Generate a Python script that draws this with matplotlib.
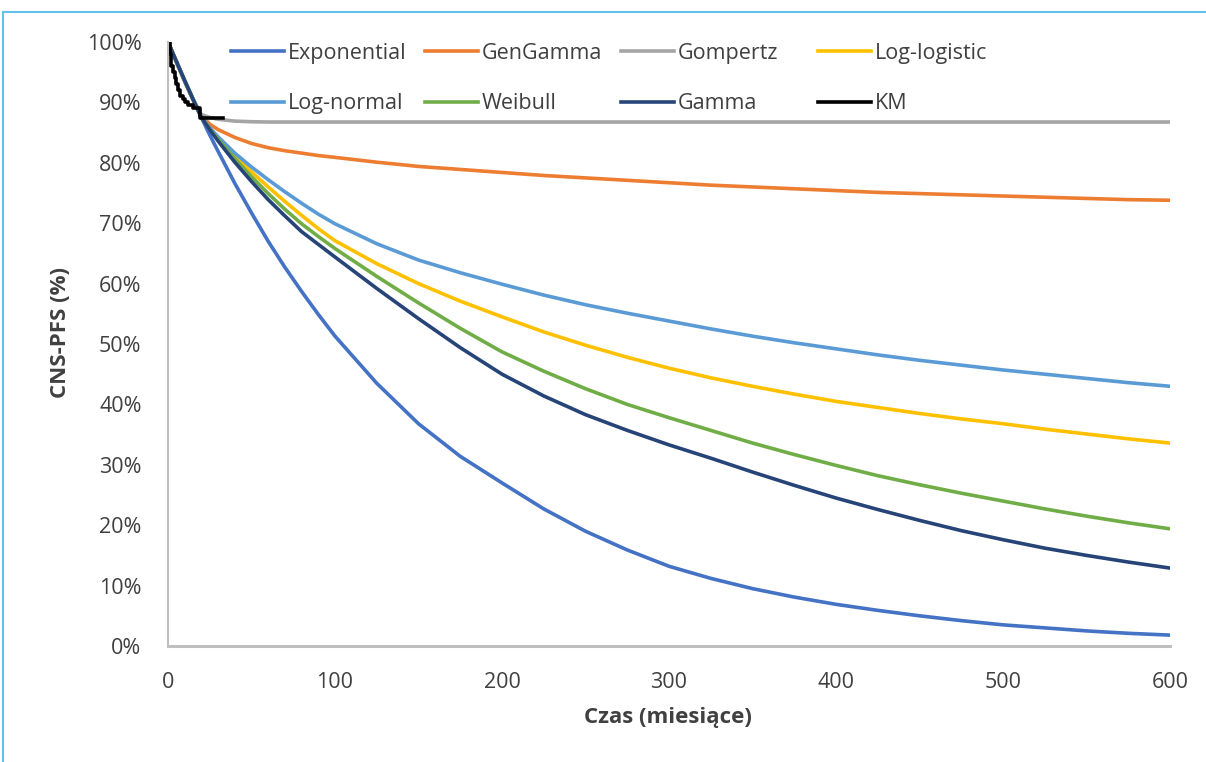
"""
plot.py

CNS-PFS extrapolation: parametric survival models vs Kaplan-Meier.
Saves the figure as out.png
"""

import matplotlib.pyplot as plt
from matplotlib.lines import Line2D
from matplotlib.ticker import PercentFormatter

# -----------------------------
# DATA
# -----------------------------
months = [0, 5, 10, 15, 20, 25, 30, 40, 50, 60, 70, 80, 90, 100, 125, 150, 175,
          200, 225, 250, 275, 300, 325, 350, 375, 400, 425, 450, 475, 500, 525,
          550, 575, 600]

exponential = [100, 96.7, 93.5, 90.4, 87.5, 84.6, 81.9, 76.6, 71.7, 67.0, 62.7,
               58.7, 54.9, 51.3, 43.5, 36.8, 31.4, 27.0, 22.7, 19.0, 15.9, 13.2,
               11.2, 9.5, 8.1, 6.9, 5.9, 5.0, 4.2, 3.5, 3.0, 2.5, 2.1, 1.8]
gengamma = [100, 96.7, 93.5, 90.5, 87.8, 86.4, 85.5, 84.2, 83.2, 82.5, 82.0,
            81.6, 81.2, 80.9, 80.1, 79.4, 78.9, 78.4, 77.9, 77.5, 77.1, 76.7,
            76.3, 76.0, 75.7, 75.4, 75.1, 74.9, 74.7, 74.5, 74.3, 74.1, 73.9, 73.8]
gompertz = [100, 96.7, 93.5, 90.5, 88.0, 87.5, 87.2, 86.9, 86.8, 86.75, 86.75,
            86.75, 86.75, 86.75, 86.75, 86.75, 86.75, 86.75, 86.75, 86.75, 86.75,
            86.75, 86.75, 86.75, 86.75, 86.75, 86.75, 86.75, 86.75, 86.75, 86.75,
            86.75, 86.75, 86.75]
log_logistic = [100, 96.8, 93.6, 90.5, 87.5, 85.7, 84.1, 81.2, 78.5, 76.0, 73.6,
                71.3, 69.1, 67.1, 63.3, 60.0, 57.1, 54.5, 52.0, 49.8, 47.8, 46.0,
                44.4, 43.0, 41.7, 40.5, 39.5, 38.5, 37.6, 36.8, 35.9, 35.1, 34.3, 33.6]
log_normal = [100, 96.8, 93.6, 90.6, 87.6, 85.8, 84.3, 81.6, 79.3, 77.2, 75.2,
              73.3, 71.5, 69.9, 66.6, 63.9, 61.8, 59.9, 58.1, 56.5, 55.1, 53.8,
              52.5, 51.3, 50.2, 49.2, 48.2, 47.3, 46.5, 45.7, 45.0, 44.3, 43.6, 43.0]
weibull = [100, 96.8, 93.6, 90.5, 87.5, 85.6, 83.9, 80.7, 77.7, 74.9, 72.3,
           69.9, 67.8, 65.8, 61.2, 56.8, 52.6, 48.7, 45.5, 42.6, 40.0, 37.8,
           35.7, 33.6, 31.7, 29.9, 28.2, 26.7, 25.3, 24.0, 22.7, 21.5, 20.4, 19.4]
gamma = [100, 96.8, 93.6, 90.5, 87.5, 85.5, 83.6, 80.1, 76.9, 73.9, 71.2,
         68.6, 66.5, 64.4, 59.2, 54.2, 49.4, 45.0, 41.4, 38.3, 35.7, 33.3,
         31.1, 28.8, 26.6, 24.5, 22.6, 20.8, 19.1, 17.6, 16.2, 15.0, 13.9, 12.9]

km_months = [0, 1, 2, 3, 4, 5, 6, 7, 9, 10, 12, 15, 19, 33]
km_surv = [100, 98, 96, 95, 94, 93, 92, 91, 90.5, 90, 89.5, 89, 87.4, 87.4]

# -----------------------------
# STYLE
# -----------------------------
plt.rcParams["font.family"] = ["Open Sans", "DejaVu Sans"]
TEXT = "#404040"
AXIS = "#BFBFBF"
COLORS = {
    "Exponential": "#4472C4",
    "GenGamma": "#ED7D31",
    "Gompertz": "#A5A5A5",
    "Log-logistic": "#FFC000",
    "Log-normal": "#5B9BD5",
    "Weibull": "#70AD47",
    "Gamma": "#264478",
    "KM": "#000000",
}
series = {
    "Exponential": exponential,
    "GenGamma": gengamma,
    "Gompertz": gompertz,
    "Log-logistic": log_logistic,
    "Log-normal": log_normal,
    "Weibull": weibull,
    "Gamma": gamma,
}

# -----------------------------
# FIGURE
# -----------------------------
fig = plt.figure(figsize=(12.06, 7.62), dpi=100)
ax = fig.add_axes([168 / 1206, 1 - 646 / 762, (1170 - 168) / 1206, (646 - 42) / 762])

handles = {}
for name, vals in series.items():
    (h,) = ax.plot(months, vals, color=COLORS[name], lw=2.6, solid_joinstyle="round")
    handles[name] = h

(h,) = ax.plot(km_months, km_surv, color=COLORS["KM"], lw=2.6, drawstyle="steps-post")
handles["KM"] = h

ax.set_xlim(0, 600)
ax.set_ylim(0, 100)
ax.set_xticks(range(0, 601, 100))
ax.set_yticks(range(0, 101, 10))
ax.yaxis.set_major_formatter(PercentFormatter(decimals=0))
ax.tick_params(length=0, labelsize=15.5, colors=TEXT)
ax.tick_params(axis="y", pad=19)
ax.tick_params(axis="x", pad=19)

for side in ["top", "right"]:
    ax.spines[side].set_visible(False)
ax.spines["left"].set_color(AXIS)
ax.spines["left"].set_linewidth(1.5)
ax.spines["bottom"].set_color(AXIS)
ax.spines["bottom"].set_linewidth(2.2)

fig.text(668 / 1206, 1 - 718 / 762, "Czas (miesiące)", ha="center", va="center",
         fontsize=16, fontweight="bold", color=TEXT)
fig.text(60 / 1206, 1 - 333 / 762, "CNS-PFS (%)", ha="center", va="center",
         rotation=90, fontsize=16, fontweight="bold", color=TEXT)

# legend: four columns, two rows each
columns = [("Exponential", "Log-normal"), ("GenGamma", "Weibull"),
           ("Gompertz", "Gamma"), ("Log-logistic", "KM")]
col_x = [231, 425, 621, 818]
for i, (top, bottom) in enumerate(columns):
    leg = ax.legend(
        handles=[handles[top], handles[bottom]],
        labels=[top, bottom],
        loc="upper left",
        bbox_to_anchor=(col_x[i] / 1206, 1 - 43 / 762),
        bbox_transform=fig.transFigure,
        frameon=False,
        fontsize=15.5,
        handlelength=2.45,
        handletextpad=0.2,
        labelspacing=1.35,
        borderaxespad=0,
        borderpad=0,
        labelcolor=TEXT,
    )
    if i < len(columns) - 1:
        ax.add_artist(leg)

# light blue frame of the original chart object
fig.add_artist(Line2D([3 / 1206, 3 / 1206], [0, 1 - 12 / 762], color="#63C1EE",
                      lw=1.5, transform=fig.transFigure))
fig.add_artist(Line2D([3 / 1206, 1], [1 - 12 / 762, 1 - 12 / 762], color="#63C1EE",
                      lw=1.5, transform=fig.transFigure))

fig.savefig("out.png", dpi=100)
